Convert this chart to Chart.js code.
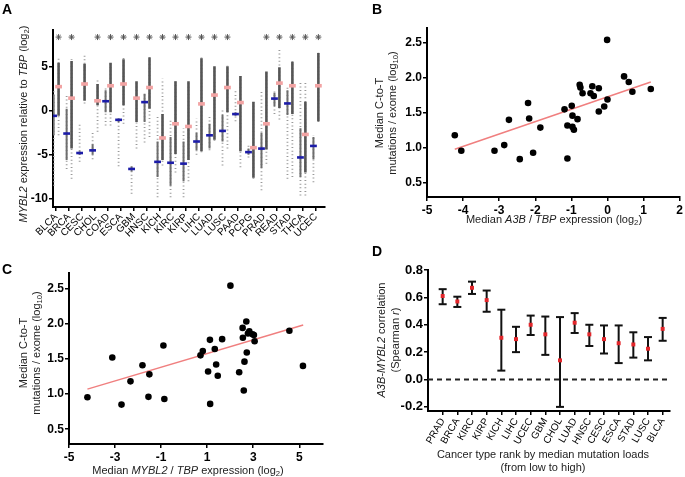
<!DOCTYPE html>
<html>
<head>
<meta charset="utf-8">
<script src="https://cdn.jsdelivr.net/npm/chart.js@4.4.0/dist/chart.umd.min.js"></script>
<style>
  body { margin: 0; background: #fff; width: 685px; height: 477px; position: relative; overflow: hidden;
         font-family: "Liberation Sans", Arial, sans-serif; }
  .pane { position: absolute; }
  .lbl { position: absolute; font-weight: bold; font-size: 14px; color: #000; line-height: 1; }
  .t { position: absolute; white-space: nowrap; color: #222; text-align: center; font-size: 11px; line-height: 13px; }
  .rot { transform: translate(-50%, -50%) rotate(-90deg); }
  .hor { transform: translate(-50%, -50%); }
  sub { font-size: 70%; vertical-align: -0.3em; line-height: 0; }
</style>
</head>
<body>
<div class="pane" style="left:0;top:0;width:340px;height:240px"><canvas id="cA"></canvas></div>
<div class="pane" style="left:340px;top:0;width:345px;height:240px"><canvas id="cB"></canvas></div>
<div class="pane" style="left:0;top:240px;width:340px;height:237px"><canvas id="cC"></canvas></div>
<div class="pane" style="left:340px;top:240px;width:345px;height:237px"><canvas id="cD"></canvas></div>

<div class="lbl" style="left:2px;top:2px">A</div>
<div class="lbl" style="left:372px;top:2px">B</div>
<div class="lbl" style="left:2px;top:262px">C</div>
<div class="lbl" style="left:372px;top:244px">D</div>

<div class="t rot" style="left:23px;top:124px"><i>MYBL2</i> expression relative to <i>TBP</i> (log<sub>2</sub>)</div>
<div class="t rot" style="left:386px;top:113px">Median C-to-T<br>mutations / exome (log<sub>10</sub>)</div>
<div class="t hor" style="left:554px;top:219px">Median <i>A3B</i> / <i>TBP</i> expression (log<sub>2</sub>)</div>
<div class="t rot" style="left:30px;top:353px">Median C-to-T<br>mutations / exome (log<sub>10</sub>)</div>
<div class="t hor" style="left:188px;top:470px">Median <i>MYBL2</i> / <i>TBP</i> expression (log<sub>2</sub>)</div>
<div class="t rot" style="left:388px;top:340px;line-height:14px"><i>A3B-MYBL2</i> correlation<br>(Spearman <i>r</i>)</div>
<div class="t hor" style="left:543px;top:461px">Cancer type rank by median mutation loads<br>(from low to high)</div>

<script>
// ---- panel A: MYBL2 expression, normal (blue) vs tumour (pink) ----
var aCats = ['BLCA', 'BRCA', 'CESC', 'CHOL', 'COAD', 'ESCA', 'GBM', 'HNSC', 'KICH', 'KIRC', 'KIRP',
             'LIHC', 'LUAD', 'LUSC', 'PAAD', 'PCPG', 'PRAD', 'READ', 'STAD', 'THCA', 'UCEC'];
var aStar = [1, 1, 0, 1, 1, 1, 1, 1, 1, 1, 1, 1, 1, 1, 0, 0, 1, 1, 1, 1, 1];
var aNormMed = [-0.6, -2.6, -4.8, -4.5, 1.05, -1.05, -6.6, 0.95, -5.8, -5.9, -6.0,
                -3.5, -2.8, -2.3, -0.4, -4.7, -4.3, 1.35, 0.8, -5.3, -4.0];
var aTumMed = [2.7, 1.4, 3.0, 1.1, 2.8, 3.0, 1.4, 2.6, -3.1, -1.5, -1.8,
               0.75, 1.75, 2.6, 0.9, -4.2, -1.5, 3.1, 2.8, -2.7, 2.8];
var aNormLo = [-8.5, -6.6, -5.8, -5.5, -1.7, -6.3, -9.4, -3.6, -9.8, -9.8, -9.8,
               -5.0, -4.5, -6.2, -1.2, -5.3, -9.0, -0.4, -7.7, -9.6, -8.1];
var aNormHi = [2.3, 1.7, -1.5, -2.4, 2.6, -0.9, -6.2, 1.9, -0.6, -1.0, -2.0,
               -0.9, -0.5, 0.3, 2.4, -3.7, 2.1, 2.3, 2.6, 3.4, -2.8];
var aNormCoreLo = [-2.8, -5.6, -5.0, -5.0, -0.2, -1.3, -6.9, -1.3, -7.5, -8.5, -8.0,
                   -4.5, -4.3, -3.5, -0.6, -5.0, -6.5, 0.5, -0.5, -7.5, -5.5];
var aNormCoreHi = [1.8, 0.2, -4.6, -3.8, 2.3, -0.9, -6.3, 1.9, -3.5, -3.0, -3.5,
                   -2.5, -1.5, -0.5, -0.2, -4.3, -2.5, 2.0, 2.3, -2.0, -3.0];
var aTumLo = [-2.8, -7.7, 0.8, -2.4, -1.7, -1.5, -4.3, -3.0, -6.2, -7.0, -8.0,
              -4.7, -3.4, -4.3, -6.4, -7.7, -6.0, -1.0, -7.5, -9.6, -1.3];
var aTumHi = [6.0, 5.8, 6.4, 3.4, 5.5, 6.0, 3.4, 6.2, 3.6, 3.4, 3.4,
              6.0, 5.1, 5.1, 4.0, 1.1, 4.5, 6.9, 5.6, 3.4, 6.6];
var aTumCoreLo = [-0.6, -4.3, 1.1, 0.6, -0.2, 0.6, -1.3, 0.2, -5.6, -4.9, -5.6,
                  -4.6, -3.3, -0.2, -4.6, -7.6, -4.4, 0.3, -0.4, -7.0, -1.2];
var aTumCoreHi = [5.4, 5.6, 5.3, 3.0, 5.4, 5.8, 3.3, 6.0, -0.4, 3.3, 3.3,
                  5.9, 5.0, 5.0, 3.9, 1.0, 4.4, 4.9, 5.5, 1.0, 6.5];
var aTicks = [5, 0, -5, -10];

// ---- panel B: A3B expression vs C-to-T mutations ----
var bX = [-4.23, -4.05, -3.13, -2.86, -2.73, -2.43, -2.2, -2.17, -2.06, -1.86, -1.19, -1.11, -1.11,
          -0.99, -0.97, -0.97, -0.83, -0.93, -0.77, -0.75, -0.69, -0.47, -0.42, -0.38, -0.24, -0.24,
          -0.09, -0.01, 0.0, 0.46, 0.59, 0.69, 1.2];
var bY = [1.18, 0.96, 0.96, 1.04, 1.4, 0.84, 1.64, 1.42, 0.93, 1.29, 1.55, 1.32, 0.85,
          1.6, 1.46, 1.3, 1.41, 1.26, 1.9, 1.86, 1.78, 1.78, 1.88, 1.74, 1.85, 1.52,
          1.59, 2.54, 1.69, 2.02, 1.94, 1.8, 1.84];
var bFitX = [-4.23, 1.2];
var bFitY = [0.98, 1.94];
var bXTicks = [-5, -4, -3, -2, -1, 0, 1, 2];
var bYTicks = [0.5, 1.0, 1.5, 2.0, 2.5];

// ---- panel C: MYBL2 expression vs C-to-T mutations ----
var cX = [-4.2, -3.12, -2.72, -2.33, -1.81, -1.55, -1.51, -0.9, -0.86, 0.71, 0.81, 1.04, 1.12, 1.13,
          1.33, 1.39, 1.46, 1.65, 2.01, 2.39, 2.54, 2.55, 2.59, 2.62, 2.7, 2.72, 2.77, 2.83,
          2.97, 3.03, 3.06, 4.57, 5.16];
var cY = [0.955, 1.52, 0.85, 1.18, 1.41, 0.96, 1.28, 1.69, 0.93, 1.55, 1.61, 1.32, 1.77, 0.86,
          1.64, 1.42, 1.26, 1.78, 2.54, 1.31, 1.94, 1.8, 1.05, 1.46, 2.03, 1.59, 1.86, 1.89,
          1.85, 1.84, 1.75, 1.9, 1.4];
var cFitX = [-4.2, 5.17];
var cFitY = [1.07, 1.98];
var cXTicks = [-5, -3, -1, 1, 3, 5];
var cYTicks = [0.5, 1.0, 1.5, 2.0, 2.5];

// ---- panel D: A3B-MYBL2 Spearman r with error bars ----
var dCats = ['PRAD', 'BRCA', 'KIRC', 'KIRP', 'KICH', 'LIHC', 'UCEC', 'GBM', 'CHOL', 'LUAD',
             'HNSC', 'CESC', 'ESCA', 'STAD', 'LUSC', 'BLCA'];
var dMean = [0.61, 0.57, 0.67, 0.58, 0.305, 0.295, 0.4, 0.33, 0.14, 0.415, 0.33, 0.295, 0.265, 0.256, 0.225, 0.37];
var dLo = [0.55, 0.53, 0.625, 0.495, 0.065, 0.2, 0.325, 0.18, -0.2, 0.34, 0.245, 0.19, 0.12, 0.16, 0.14, 0.283];
var dHi = [0.66, 0.605, 0.715, 0.65, 0.51, 0.385, 0.467, 0.46, 0.456, 0.485, 0.4, 0.395, 0.395, 0.345, 0.31, 0.45];
var dYTicks = [-0.2, 0.0, 0.2, 0.4, 0.6, 0.8];

var FONT = '"Liberation Sans", Arial, sans-serif';

function segs(xs, lo, hi) {
  var out = [];
  for (var i = 0; i < xs.length; i++) {
    out.push({x: xs[i], y: lo[i]}, {x: xs[i], y: hi[i]}, {x: xs[i], y: null});
  }
  return out;
}
function pts(xs, ys) {
  return xs.map(function (x, i) { return {x: x, y: ys[i]}; });
}
function axis(min, max, ticks, fmt, fit, extra) {
  var o = {
    type: 'linear', min: min, max: max,
    afterBuildTicks: function (s) { s.ticks = ticks.map(function (v) { return {value: v}; }); },
    afterFit: fit,
    grid: {drawOnChartArea: false, drawTicks: true, tickLength: 4, color: '#000', lineWidth: 1.5},
    border: {display: true, color: '#000', width: 2},
    ticks: {color: '#000', padding: 1, autoSkip: false, maxRotation: 0, minRotation: 0,
            font: {family: FONT, size: 12, weight: 'bold'}, callback: fmt}
  };
  if (extra) {
    for (var k in extra) o.ticks[k] = extra[k];
  }
  return o;
}
function base(pad) {
  return {
    responsive: true, maintainAspectRatio: false, animation: false, events: [],
    layout: {padding: pad},
    plugins: {legend: {display: false}, tooltip: {enabled: false}}
  };
}
var line = function (data, color, width, dash) {
  return {data: data, showLine: true, pointRadius: 0, borderColor: color, borderWidth: width,
          borderDash: dash || [], spanGaps: false, borderCapStyle: 'butt'};
};
var fmt1 = function (v) { return v.toFixed(1); };
var fmt0 = function (v) { return String(v); };

// panel A
var off = 0.19;
var aIdx = aCats.map(function (c, i) { return i; });
var aNx = aIdx.map(function (i) { return i - off; });
var aTx = aIdx.map(function (i) { return i + off; });
var starPts = [];
aIdx.forEach(function (i) { if (aStar[i]) starPts.push({x: aTx[i], y: 8.3}); });

var optA = base({top: 30, right: 15, left: 0, bottom: 0});
optA.scales = {
  x: axis(-0.24, 20.7, aIdx, function (v) { return aCats[v]; }, function (s) { s.height = 33; },
          {font: {family: FONT, size: 10}, maxRotation: 45, minRotation: 45, padding: 0}),
  y: axis(-10.9, 9.1, aTicks, fmt0, function (s) { s.width = 53; })
};
new Chart(document.getElementById('cA'), {
  type: 'scatter',
  data: {datasets: [
    {data: starPts, pointStyle: 'star', radius: 3, borderWidth: 1, borderColor: '#555'},
    {data: pts(aNx, aNormMed), pointStyle: 'line', radius: 3.4, borderWidth: 2.6, borderColor: '#1c1ca8'},
    {data: pts(aTx, aTumMed), pointStyle: 'line', radius: 3.4, borderWidth: 3.6, borderColor: '#f2a3a3'},
    line(segs(aNx, aNormCoreLo, aNormCoreHi), '#6e6e6e', 2),
    line(segs(aTx, aTumCoreLo, aTumCoreHi), '#555', 2.6),
    line(segs(aNx, aNormLo, aNormHi), '#999', 1.8, [1, 2.6]),
    line(segs(aTx, aTumLo, aTumHi), '#999', 1.8, [1, 2.6])
  ]},
  options: optA
});

// panel B
var optB = base({top: 28, right: 5, left: 0, bottom: 0});
optB.scales = {
  x: axis(-5, 2, bXTicks, fmt0, function (s) { s.height = 43; }, {padding: 2}),
  y: axis(0.3, 2.71, bYTicks, fmt1, function (s) { s.width = 87; })
};
new Chart(document.getElementById('cB'), {
  type: 'scatter',
  data: {datasets: [
    {data: pts(bX, bY), pointRadius: 3.3, backgroundColor: '#000', borderWidth: 0},
    line(pts(bFitX, bFitY), '#f07f7f', 1.5)
  ]},
  options: optB
});

// panel C
var optC = base({top: 33, right: 17, left: 0, bottom: 0});
optC.scales = {
  x: axis(-5, 6.03, cXTicks, fmt0, function (s) { s.height = 33; }, {padding: 2}),
  y: axis(0.29, 2.72, cYTicks, fmt1, function (s) { s.width = 69; })
};
new Chart(document.getElementById('cC'), {
  type: 'scatter',
  data: {datasets: [
    {data: pts(cX, cY), pointRadius: 3.3, backgroundColor: '#000', borderWidth: 0},
    line(pts(cFitX, cFitY), '#f07f7f', 1.5)
  ]},
  options: optC
});

// panel D
var dIdx = dCats.map(function (c, i) { return i; });
var dMin = -1, dMax = 15.5;
var optD = base({top: 30, right: 15, left: 0, bottom: 0});
optD.scales = {
  x: axis(dMin, dMax, dIdx, function (v) { return dCats[v]; }, function (s) { s.height = 66; },
          {font: {family: FONT, size: 10}, maxRotation: 60, minRotation: 60, padding: 1}),
  y: axis(-0.23, 0.8, dYTicks, fmt1, function (s) { s.width = 88; }, {font: {family: FONT, size: 13, weight: 'bold'}})
};
new Chart(document.getElementById('cD'), {
  type: 'scatter',
  data: {datasets: [
    {data: pts(dIdx, dMean), pointStyle: 'rect', radius: 2.8, backgroundColor: '#e3262b', borderWidth: 0},
    {data: pts(dIdx, dLo), pointStyle: 'line', radius: 4, borderWidth: 2, borderColor: '#111'},
    {data: pts(dIdx, dHi), pointStyle: 'line', radius: 4, borderWidth: 2, borderColor: '#111'},
    line(segs(dIdx, dLo, dHi), '#111', 2),
    line(pts([dMin, dMax], [0, 0]), '#222', 2, [5, 4])
  ]},
  options: optD
});
</script>
</body>
</html>
